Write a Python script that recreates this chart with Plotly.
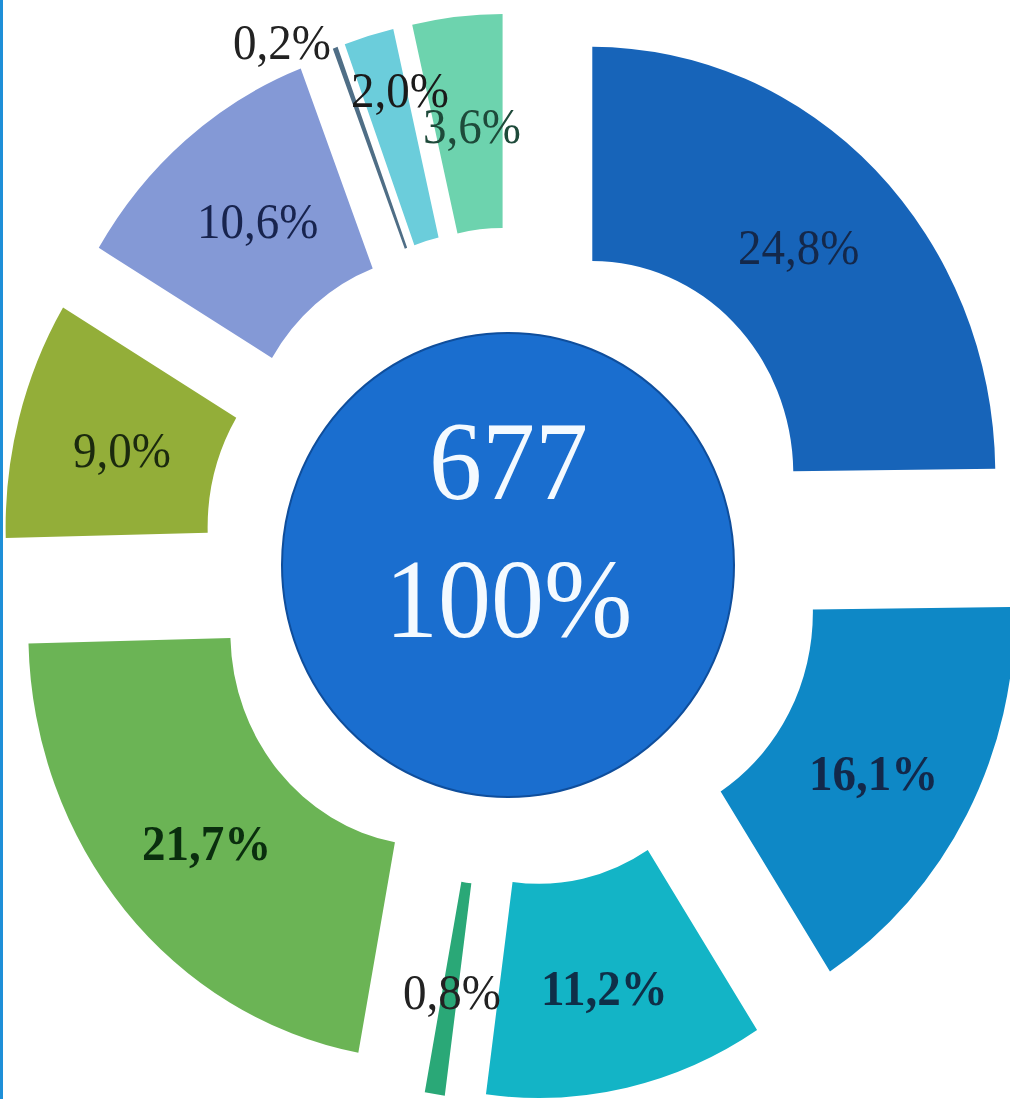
import plotly.graph_objects as go

# Share of each group in %, clockwise from 12 o'clock
shares = [24.8, 16.1, 11.2, 0.8, 21.7, 9.0, 10.6, 0.2, 2.0, 3.6]
share_text = [f"{v:.1f}".replace(".", ",") + "%" for v in shares]
total_count = "677"
total_share = "100%"

slice_colors = ["#1764B9", "#0E88C6", "#13B4C6", "#2AA877", "#6BB455",
                "#93AE39", "#8499D6", "#4F6E86", "#6BCDDB", "#6DD3AE"]

# page is shown with a slight vertical stretch
Y_STRETCH = 1.06

# label placement (page px) and style per slice
label_pos = [(798, 247), (873, 773), (604, 988), (452, 992), (206, 843),
             (122, 450), (257, 222), (282, 42), (400, 90), (472, 126)]
label_colors = ["#14284A", "#13284A", "#0F2F48", "#222222", "#0A2E0E",
                "#1B2A0E", "#18244E", "#222222", "#1A1A1A", "#1E4A3A"]
label_bold = [False, True, True, False, True, False, False, False, False, False]

W, H = 1030, 1040
CX, CY = 515, 557 / Y_STRETCH   # pie centre
R_OUT, R_IN = 403, 201          # ring radii
PULL_PX = 110                   # explode distance

pull = PULL_PX / R_OUT
half = R_OUT * (1 + pull)


def py_to_paper(py):
    return 1 - (py / Y_STRETCH) / H


fig = go.Figure()
fig.add_trace(go.Pie(
    labels=share_text,
    values=shares,
    sort=False,
    direction="clockwise",
    rotation=0,
    hole=R_IN / R_OUT,
    pull=[pull] * len(shares),
    marker=dict(colors=slice_colors, line=dict(width=0)),
    textinfo="none",
    hoverinfo="skip",
    showlegend=False,
    domain=dict(x=[max(0, (CX - half) / W), min(1, (CX + half) / W)],
                y=[max(0, 1 - (CY + half) / H), min(1, 1 - (CY - half) / H)]),
))

# central disc (page px)
CCX, CCY, CRX, CRY = 508, 565, 226, 232
shapes = [
    dict(type="circle", xref="paper", yref="paper",
         x0=(CCX - CRX) / W, x1=(CCX + CRX) / W,
         y0=py_to_paper(CCY + CRY), y1=py_to_paper(CCY - CRY),
         fillcolor="#1A6ECF", line=dict(color="#0F4E9C", width=2), layer="above"),
    dict(type="rect", xref="paper", yref="paper",
         x0=0, x1=3 / W, y0=0, y1=1,
         fillcolor="#1E8FD8", line=dict(width=0), layer="above"),
]

annotations = []
for txt, (px, py), col, b in zip(share_text, label_pos, label_colors, label_bold):
    annotations.append(dict(
        x=px / W, y=py_to_paper(py), xref="paper", yref="paper",
        text=f"<b>{txt}</b>" if b else txt, showarrow=False,
        xanchor="center", yanchor="middle",
        font=dict(family="Liberation Serif", size=47, color=col)))

for txt, py in [(total_count, 462), (total_share, 599)]:
    annotations.append(dict(
        x=CCX / W, y=py_to_paper(py), xref="paper", yref="paper",
        text=txt, showarrow=False, xanchor="center", yanchor="middle",
        font=dict(family="Liberation Serif", size=106, color="#F4FAFF")))

fig.update_layout(
    width=W, height=H,
    margin=dict(l=0, r=0, t=0, b=0),
    paper_bgcolor="white", plot_bgcolor="white",
    shapes=shapes, annotations=annotations,
)

fig.write_html(
    "out.html",
    post_script=(
        "document.documentElement.style.overflow='hidden';"
        "document.body.style.overflow='hidden';"
        "var gd=document.getElementById('{plot_id}');"
        "gd.style.transformOrigin='0 0';"
        f"gd.style.transform='scaleY({Y_STRETCH})';"
    ),
)
